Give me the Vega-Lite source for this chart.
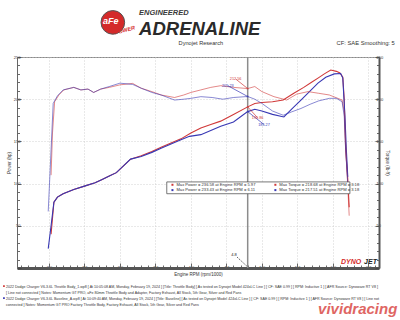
{
 "$schema": "https://vega.github.io/schema/vega-lite/v6.json",
 "width": 362,
 "height": 211,
 "autosize": "none",
 "padding": {"left": 17, "top": 57, "right": 21, "bottom": 52},
 "background": "white",
 "config": {"font": "Liberation Sans", "view": {"stroke": "#8a8a8a", "strokeWidth": 1}},
 "datasets": {
  "curves": [
   {"rpm":2.03,"v":40,"run":"Throttle Body","m":"Power"},{"rpm":2.07,"v":78,"run":"Throttle Body","m":"Power"},{"rpm":2.12,"v":84,"run":"Throttle Body","m":"Power"},{"rpm":2.2,"v":88,"run":"Throttle Body","m":"Power"},{"rpm":2.35,"v":93,"run":"Throttle Body","m":"Power"},{"rpm":2.5,"v":97,"run":"Throttle Body","m":"Power"},{"rpm":2.65,"v":101,"run":"Throttle Body","m":"Power"},{"rpm":2.75,"v":105,"run":"Throttle Body","m":"Power"},{"rpm":2.85,"v":109,"run":"Throttle Body","m":"Power"},{"rpm":2.95,"v":113,"run":"Throttle Body","m":"Power"},{"rpm":3.05,"v":121,"run":"Throttle Body","m":"Power"},{"rpm":3.15,"v":129,"run":"Throttle Body","m":"Power"},{"rpm":3.3,"v":133,"run":"Throttle Body","m":"Power"},{"rpm":3.45,"v":138,"run":"Throttle Body","m":"Power"},{"rpm":3.58,"v":143,"run":"Throttle Body","m":"Power"},{"rpm":3.72,"v":148,"run":"Throttle Body","m":"Power"},{"rpm":3.86,"v":153,"run":"Throttle Body","m":"Power"},{"rpm":4.0,"v":160,"run":"Throttle Body","m":"Power"},{"rpm":4.14,"v":166,"run":"Throttle Body","m":"Power"},{"rpm":4.28,"v":170,"run":"Throttle Body","m":"Power"},{"rpm":4.42,"v":174,"run":"Throttle Body","m":"Power"},{"rpm":4.6,"v":182,"run":"Throttle Body","m":"Power"},{"rpm":4.8,"v":190.9,"run":"Throttle Body","m":"Power"},{"rpm":4.9,"v":195,"run":"Throttle Body","m":"Power"},{"rpm":5.0,"v":196,"run":"Throttle Body","m":"Power"},{"rpm":5.15,"v":197,"run":"Throttle Body","m":"Power"},{"rpm":5.3,"v":199,"run":"Throttle Body","m":"Power"},{"rpm":5.45,"v":207,"run":"Throttle Body","m":"Power"},{"rpm":5.59,"v":214,"run":"Throttle Body","m":"Power"},{"rpm":5.7,"v":220,"run":"Throttle Body","m":"Power"},{"rpm":5.79,"v":225,"run":"Throttle Body","m":"Power"},{"rpm":5.88,"v":230,"run":"Throttle Body","m":"Power"},{"rpm":5.97,"v":234.5,"run":"Throttle Body","m":"Power"},{"rpm":6.05,"v":233,"run":"Throttle Body","m":"Power"},{"rpm":6.1,"v":231,"run":"Throttle Body","m":"Power"},{"rpm":6.14,"v":226,"run":"Throttle Body","m":"Power"},{"rpm":6.16,"v":200,"run":"Throttle Body","m":"Power"},{"rpm":6.18,"v":141,"run":"Throttle Body","m":"Power"},{"rpm":6.21,"v":105,"run":"Throttle Body","m":"Power"},{"rpm":6.23,"v":72,"run":"Throttle Body","m":"Power"},
   {"rpm":1.99,"v":23,"run":"Baseline","m":"Power"},{"rpm":2.03,"v":50,"run":"Baseline","m":"Power"},{"rpm":2.07,"v":78,"run":"Baseline","m":"Power"},{"rpm":2.12,"v":84,"run":"Baseline","m":"Power"},{"rpm":2.2,"v":88,"run":"Baseline","m":"Power"},{"rpm":2.35,"v":93,"run":"Baseline","m":"Power"},{"rpm":2.5,"v":97,"run":"Baseline","m":"Power"},{"rpm":2.65,"v":101,"run":"Baseline","m":"Power"},{"rpm":2.75,"v":105,"run":"Baseline","m":"Power"},{"rpm":2.85,"v":109,"run":"Baseline","m":"Power"},{"rpm":2.95,"v":113,"run":"Baseline","m":"Power"},{"rpm":3.05,"v":121,"run":"Baseline","m":"Power"},{"rpm":3.15,"v":129,"run":"Baseline","m":"Power"},{"rpm":3.3,"v":132,"run":"Baseline","m":"Power"},{"rpm":3.45,"v":137,"run":"Baseline","m":"Power"},{"rpm":3.58,"v":142,"run":"Baseline","m":"Power"},{"rpm":3.72,"v":147,"run":"Baseline","m":"Power"},{"rpm":3.86,"v":152,"run":"Baseline","m":"Power"},{"rpm":3.98,"v":156,"run":"Baseline","m":"Power"},{"rpm":4.14,"v":158,"run":"Baseline","m":"Power"},{"rpm":4.28,"v":163,"run":"Baseline","m":"Power"},{"rpm":4.42,"v":168,"run":"Baseline","m":"Power"},{"rpm":4.6,"v":173,"run":"Baseline","m":"Power"},{"rpm":4.8,"v":185.3,"run":"Baseline","m":"Power"},{"rpm":4.9,"v":188,"run":"Baseline","m":"Power"},{"rpm":5.0,"v":186,"run":"Baseline","m":"Power"},{"rpm":5.15,"v":182,"run":"Baseline","m":"Power"},{"rpm":5.31,"v":179,"run":"Baseline","m":"Power"},{"rpm":5.43,"v":189,"run":"Baseline","m":"Power"},{"rpm":5.55,"v":199,"run":"Baseline","m":"Power"},{"rpm":5.67,"v":209,"run":"Baseline","m":"Power"},{"rpm":5.79,"v":219,"run":"Baseline","m":"Power"},{"rpm":5.9,"v":226,"run":"Baseline","m":"Power"},{"rpm":6.02,"v":230,"run":"Baseline","m":"Power"},{"rpm":6.11,"v":230.4,"run":"Baseline","m":"Power"},{"rpm":6.14,"v":225,"run":"Baseline","m":"Power"},{"rpm":6.17,"v":180,"run":"Baseline","m":"Power"},{"rpm":6.19,"v":140,"run":"Baseline","m":"Power"},{"rpm":6.21,"v":108,"run":"Baseline","m":"Power"},
   {"rpm":2.03,"v":110,"run":"Throttle Body","m":"Torque"},{"rpm":2.05,"v":160,"run":"Throttle Body","m":"Torque"},{"rpm":2.08,"v":197,"run":"Throttle Body","m":"Torque"},{"rpm":2.14,"v":205,"run":"Throttle Body","m":"Torque"},{"rpm":2.21,"v":211,"run":"Throttle Body","m":"Torque"},{"rpm":2.35,"v":214,"run":"Throttle Body","m":"Torque"},{"rpm":2.45,"v":211,"run":"Throttle Body","m":"Torque"},{"rpm":2.55,"v":212,"run":"Throttle Body","m":"Torque"},{"rpm":2.63,"v":208,"run":"Throttle Body","m":"Torque"},{"rpm":2.73,"v":212,"run":"Throttle Body","m":"Torque"},{"rpm":2.85,"v":214,"run":"Throttle Body","m":"Torque"},{"rpm":3.0,"v":217,"run":"Throttle Body","m":"Torque"},{"rpm":3.18,"v":218.7,"run":"Throttle Body","m":"Torque"},{"rpm":3.3,"v":213,"run":"Throttle Body","m":"Torque"},{"rpm":3.45,"v":209,"run":"Throttle Body","m":"Torque"},{"rpm":3.58,"v":205,"run":"Throttle Body","m":"Torque"},{"rpm":3.77,"v":202,"run":"Throttle Body","m":"Torque"},{"rpm":3.9,"v":205,"run":"Throttle Body","m":"Torque"},{"rpm":4.0,"v":208,"run":"Throttle Body","m":"Torque"},{"rpm":4.14,"v":211,"run":"Throttle Body","m":"Torque"},{"rpm":4.28,"v":214,"run":"Throttle Body","m":"Torque"},{"rpm":4.42,"v":216,"run":"Throttle Body","m":"Torque"},{"rpm":4.6,"v":214,"run":"Throttle Body","m":"Torque"},{"rpm":4.8,"v":212.6,"run":"Throttle Body","m":"Torque"},{"rpm":4.9,"v":215,"run":"Throttle Body","m":"Torque"},{"rpm":5.0,"v":209,"run":"Throttle Body","m":"Torque"},{"rpm":5.17,"v":203,"run":"Throttle Body","m":"Torque"},{"rpm":5.35,"v":199,"run":"Throttle Body","m":"Torque"},{"rpm":5.49,"v":206,"run":"Throttle Body","m":"Torque"},{"rpm":5.65,"v":209,"run":"Throttle Body","m":"Torque"},{"rpm":5.8,"v":207,"run":"Throttle Body","m":"Torque"},{"rpm":5.95,"v":205,"run":"Throttle Body","m":"Torque"},{"rpm":6.13,"v":199,"run":"Throttle Body","m":"Torque"},{"rpm":6.16,"v":185,"run":"Throttle Body","m":"Torque"},{"rpm":6.19,"v":130,"run":"Throttle Body","m":"Torque"},{"rpm":6.23,"v":62,"run":"Throttle Body","m":"Torque"},
   {"rpm":1.99,"v":67,"run":"Baseline","m":"Torque"},{"rpm":2.03,"v":140,"run":"Baseline","m":"Torque"},{"rpm":2.06,"v":195,"run":"Baseline","m":"Torque"},{"rpm":2.12,"v":204,"run":"Baseline","m":"Torque"},{"rpm":2.2,"v":211,"run":"Baseline","m":"Torque"},{"rpm":2.35,"v":214,"run":"Baseline","m":"Torque"},{"rpm":2.45,"v":211,"run":"Baseline","m":"Torque"},{"rpm":2.55,"v":212,"run":"Baseline","m":"Torque"},{"rpm":2.63,"v":208,"run":"Baseline","m":"Torque"},{"rpm":2.73,"v":212,"run":"Baseline","m":"Torque"},{"rpm":2.85,"v":215,"run":"Baseline","m":"Torque"},{"rpm":3.0,"v":219,"run":"Baseline","m":"Torque"},{"rpm":3.18,"v":217.5,"run":"Baseline","m":"Torque"},{"rpm":3.3,"v":213,"run":"Baseline","m":"Torque"},{"rpm":3.45,"v":208,"run":"Baseline","m":"Torque"},{"rpm":3.58,"v":205,"run":"Baseline","m":"Torque"},{"rpm":3.77,"v":199,"run":"Baseline","m":"Torque"},{"rpm":3.9,"v":200,"run":"Baseline","m":"Torque"},{"rpm":4.0,"v":201,"run":"Baseline","m":"Torque"},{"rpm":4.14,"v":203,"run":"Baseline","m":"Torque"},{"rpm":4.3,"v":202,"run":"Baseline","m":"Torque"},{"rpm":4.45,"v":200,"run":"Baseline","m":"Torque"},{"rpm":4.6,"v":202,"run":"Baseline","m":"Torque"},{"rpm":4.8,"v":203.2,"run":"Baseline","m":"Torque"},{"rpm":4.9,"v":200,"run":"Baseline","m":"Torque"},{"rpm":5.0,"v":195,"run":"Baseline","m":"Torque"},{"rpm":5.15,"v":186,"run":"Baseline","m":"Torque"},{"rpm":5.3,"v":181,"run":"Baseline","m":"Torque"},{"rpm":5.42,"v":185,"run":"Baseline","m":"Torque"},{"rpm":5.55,"v":189,"run":"Baseline","m":"Torque"},{"rpm":5.68,"v":194,"run":"Baseline","m":"Torque"},{"rpm":5.8,"v":198,"run":"Baseline","m":"Torque"},{"rpm":5.95,"v":201,"run":"Baseline","m":"Torque"},{"rpm":6.05,"v":201,"run":"Baseline","m":"Torque"},{"rpm":6.13,"v":197,"run":"Baseline","m":"Torque"},{"rpm":6.16,"v":180,"run":"Baseline","m":"Torque"},{"rpm":6.18,"v":140,"run":"Baseline","m":"Torque"},{"rpm":6.21,"v":100,"run":"Baseline","m":"Torque"}
  ],
  "callouts": [
   {"rpm":4.63,"v":224,"rpm2":4.8,"v2":212.6,"t":"212.56","run":"Throttle Body"},
   {"rpm":4.52,"v":216,"rpm2":4.8,"v2":203.2,"t":"205.23","run":"Baseline"},
   {"rpm":4.94,"v":178,"rpm2":4.8,"v2":190.9,"t":"190.86","run":"Throttle Body"},
   {"rpm":5.03,"v":170,"rpm2":4.8,"v2":185.3,"t":"185.27","run":"Baseline"}
  ],
  "legendbox": [{"rpm":3.66,"v":102,"rpm2":6.24,"v2":88}],
  "legenditems": [
   {"rpm":3.74,"v":98.6,"t":"Max Power = 236.58 at Engine RPM = 5.97","run":"Throttle Body"},
   {"rpm":3.74,"v":92.3,"t":"Max Power = 233.43 at Engine RPM = 6.11","run":"Baseline"},
   {"rpm":5.19,"v":98.6,"t":"Max Torque = 218.68 at Engine RPM = 3.18","run":"Throttle Body"},
   {"rpm":5.19,"v":92.3,"t":"Max Torque = 217.51 at Engine RPM = 3.18","run":"Baseline"}
  ],
  "footer": [
   {"rpm":1.394,"v":-22.5,"t":"2022 Dodge Charger V6-3.6L Throttle Body_1.wp8 [ At 10:05:08 AM, Monday, February 19, 2024 ] [Title: Throttle Body] [ As tested on Dynojet Model 424xLC Line ] [ CF: SAE 0.99 ] [ RPM: Inductive 1 ] [ AFR Source: Dynoware RT V8 ]"},
   {"rpm":1.394,"v":-29.6,"t":"[ Line not connected ] Notes: Momentum GT PRO, aFe 80mm Throttle Body and Adapter, Factory Exhaust, All Stock, 5th Gear, Silver and Red Pans"},
   {"rpm":1.394,"v":-36.7,"t":"2022 Dodge Charger V6-3.6L Baseline_A.wp8 [ At 10:09:40 AM, Monday, February 19, 2024 ] [Title: Baseline] [ As tested on Dynojet Model 424xLC Line ] [ CF: SAE 0.99 ] [ RPM: Inductive 1 ] [ AFR Source: Dynoware RT V8 ] [ Line not"},
   {"rpm":1.394,"v":-43.8,"t":"connected ] Notes: Momentum GT PRO Factory Throttle Body, Factory Exhaust, All Stock, 5th Gear, Silver and Red Pans"}
  ],
  "footermarks": [
   {"rpm":1.366,"v":-21.5,"run":"Throttle Body"},
   {"rpm":1.366,"v":-35.7,"run":"Baseline"}
  ]
 },
 "encoding": {
  "x": {"field": "rpm", "type": "quantitative",
        "scale": {"domain": [1.55, 6.65], "nice": false, "zero": false},
        "axis": {
          "values": [1.6,1.7,1.8,1.9,2.0,2.1,2.2,2.3,2.4,2.5,2.6,2.7,2.8,2.9,3.0,3.1,3.2,3.3,3.4,3.5,3.6,3.7,3.8,3.9,4.0,4.1,4.2,4.3,4.4,4.5,4.6,4.7,4.8,4.9,5.0,5.1,5.2,5.3,5.4,5.5,5.6,5.7,5.8,5.9,6.0,6.1,6.2,6.3,6.4,6.5,6.6],
          "labelExpr": "round(datum.value*10) % 5 === 0 ? format(datum.value, '.1f') : ''",
          "labelFontSize": 4, "labelColor": "#333", "labelPadding": 2, "labelFlush": false,
          "title": "Engine RPM (rpm/1000)", "titleFontSize": 4.5, "titleFontWeight": "normal", "titleColor": "#333", "titlePadding": 2,
          "domainColor": "#555", "domainWidth": 3,
          "tickColor": "#444", "tickWidth": 0.8,
          "tickSize": {"condition": {"test": "round(datum.value*10) % 5 === 0", "value": -5}, "value": -3},
          "grid": true, "gridColor": "#c8c8c8", "gridDash": [1, 2], "gridWidth": 0.8,
          "gridOpacity": {"condition": {"test": "round(datum.value*10) % 5 === 0", "value": 1}, "value": 0}
        }},
  "y": {"field": "v", "type": "quantitative",
        "scale": {"domain": [0, 250], "nice": false, "zero": false},
        "axis": null}
 },
 "layer": [
  {
   "data": {"values": [{"rpm": 4.8, "v": 0, "v2": 250}]},
   "mark": {"type": "rule", "color": "#8c8c8c", "strokeWidth": 1.5},
   "encoding": {"y2": {"field": "v2"}}
  },
  {
   "data": {"name": "curves"},
   "transform": [{"filter": "datum.m === 'Power'"}],
   "mark": {"type": "line", "strokeWidth": 1.1, "interpolate": "linear"},
   "encoding": {
    "y": {"field": "v", "type": "quantitative",
          "scale": {"domain": [0, 250], "nice": false, "zero": false},
          "axis": {
           "orient": "left",
           "values": [0,10,20,30,40,50,60,70,80,90,100,110,120,130,140,150,160,170,180,190,200,210,220,230,240,250],
           "labelExpr": "datum.value % 50 === 0 && datum.value > 0 ? datum.value : ''",
           "labelFontSize": 4, "labelColor": "#333", "labelPadding": 1,
           "title": "Power (hp)", "titleFontSize": 4.5, "titleFontWeight": "normal", "titleColor": "#333", "titlePadding": 2,
           "domainColor": "#666", "domainWidth": 1,
           "tickColor": "#444", "tickWidth": 0.8,
           "tickSize": {"condition": {"test": "datum.value % 50 === 0", "value": -4}, "value": -2.5},
           "grid": true, "gridColor": "#c8c8c8", "gridDash": [1, 2], "gridWidth": 0.8,
           "gridOpacity": {"condition": {"test": "datum.value % 50 === 0", "value": 1}, "value": 0}
          }},
    "color": {"field": "run", "type": "nominal", "scale": {"domain": ["Throttle Body", "Baseline"], "range": ["#d03838", "#3838b4"]}, "legend": null},
    "detail": {"field": "run"}
   }
  },
  {
   "data": {"name": "curves"},
   "transform": [{"filter": "datum.m === 'Torque'"}],
   "mark": {"type": "line", "strokeWidth": 0.7, "opacity": 0.85},
   "encoding": {
    "y": {"field": "v", "type": "quantitative",
          "scale": {"domain": [0, 250], "nice": false, "zero": false},
          "axis": {
           "orient": "right",
           "values": [0,10,20,30,40,50,60,70,80,90,100,110,120,130,140,150,160,170,180,190,200,210,220,230,240,250],
           "labelExpr": "datum.value % 50 === 0 && datum.value > 0 ? datum.value : ''",
           "labelFontSize": 4, "labelColor": "#333", "labelPadding": 1,
           "title": "Torque (lb-ft)", "titleFontSize": 4.5, "titleFontWeight": "normal", "titleColor": "#333", "titlePadding": 2, "titleAngle": 90,
           "domainColor": "#555", "domainWidth": 2,
           "tickColor": "#444", "tickWidth": 0.8,
           "tickSize": {"condition": {"test": "datum.value % 50 === 0", "value": -4}, "value": -2.5},
           "grid": false
          }},
    "color": {"field": "run", "type": "nominal", "scale": {"domain": ["Throttle Body", "Baseline"], "range": ["#d03838", "#3838b4"]}, "legend": null},
    "detail": {"field": "run"}
   }
  },
  {
   "data": {"name": "callouts"},
   "mark": {"type": "rule", "strokeWidth": 0.7},
   "encoding": {
    "x2": {"field": "rpm2"}, "y2": {"field": "v2"},
    "color": {"field": "run", "type": "nominal", "scale": {"domain": ["Throttle Body", "Baseline"], "range": ["#d03838", "#3838b4"]}, "legend": null}
   }
  },
  {
   "data": {"name": "callouts"},
   "mark": {"type": "point", "shape": "triangle", "size": 6, "filled": true},
   "encoding": {
    "x": {"field": "rpm2", "type": "quantitative"}, "y": {"field": "v2", "type": "quantitative"},
    "color": {"field": "run", "type": "nominal", "scale": {"domain": ["Throttle Body", "Baseline"], "range": ["#d03838", "#3838b4"]}, "legend": null}
   }
  },
  {
   "data": {"name": "callouts"},
   "mark": {"type": "text", "fontSize": 3.8, "align": "center", "baseline": "middle"},
   "encoding": {
    "text": {"field": "t"},
    "color": {"field": "run", "type": "nominal", "scale": {"domain": ["Throttle Body", "Baseline"], "range": ["#d03838", "#3838b4"]}, "legend": null}
   }
  },
  {
   "data": {"values": [{"rpm": 4.65, "v": 13, "rpm2": 4.79, "v2": 2, "t": "4.8"}]},
   "layer": [
    {"mark": {"type": "rule", "color": "#222", "strokeWidth": 0.7, "strokeDash": [1.5, 1]}, "encoding": {"x2": {"field": "rpm2"}, "y2": {"field": "v2"}}},
    {"mark": {"type": "text", "fontSize": 4, "color": "#222", "dx": -3, "dy": -2}, "encoding": {"text": {"field": "t"}}}
   ]
  },
  {
   "data": {"name": "legendbox"},
   "mark": {"type": "rect", "fill": "white", "stroke": "#555", "strokeWidth": 0.8},
   "encoding": {"x2": {"field": "rpm2"}, "y2": {"field": "v2"}}
  },
  {
   "data": {"name": "legenditems"},
   "mark": {"type": "point", "shape": "square", "size": 4, "filled": true, "opacity": 1},
   "encoding": {
    "color": {"field": "run", "type": "nominal", "scale": {"domain": ["Throttle Body", "Baseline"], "range": ["#d03838", "#3838b4"]}, "legend": null}
   }
  },
  {
   "data": {"name": "legenditems"},
   "mark": {"type": "text", "fontSize": 4.1, "align": "left", "baseline": "middle", "dx": 4, "color": "#333"},
   "encoding": {"text": {"field": "t"}}
  },
  {
   "data": {"values": [{"rpm": 6.4, "v": 7, "t": "DYNO"}]},
   "mark": {"type": "text", "fontSize": 7, "fontWeight": "bold", "fontStyle": "italic", "align": "right", "baseline": "middle", "color": "#d42a2a"},
   "encoding": {"text": {"field": "t"}}
  },
  {
   "data": {"values": [{"rpm": 6.44, "v": 7, "t": "JET"}]},
   "mark": {"type": "text", "fontSize": 7, "fontWeight": "bold", "fontStyle": "italic", "align": "left", "baseline": "middle", "color": "#222"},
   "encoding": {"text": {"field": "t"}}
  },
  {
   "data": {"name": "footermarks"},
   "mark": {"type": "point", "shape": "square", "size": 3, "filled": true, "opacity": 1},
   "encoding": {
    "color": {"field": "run", "type": "nominal", "scale": {"domain": ["Throttle Body", "Baseline"], "range": ["#d03838", "#3838b4"]}, "legend": null}
   }
  },
  {
   "data": {"name": "footer"},
   "mark": {"type": "text", "fontSize": 3.6, "align": "left", "baseline": "middle", "color": "#333"},
   "encoding": {"text": {"field": "t"}}
  },
  {
   "data": {"values": [{"rpm": 6.35, "v": -48, "t": "vividracing"}]},
   "mark": {"type": "text", "fontSize": 15, "fontWeight": "bold", "fontStyle": "italic", "align": "center", "baseline": "middle", "color": "#d8403c", "opacity": 0.8},
   "encoding": {"text": {"field": "t"}}
  },
  {
   "data": {"values": [{"rpm": 2.9, "v": 291}]},
   "mark": {"type": "point", "shape": "circle", "size": 560, "filled": true, "color": "#d42a2a", "stroke": "#555", "strokeWidth": 1, "opacity": 1}
  },
  {
   "data": {"values": [{"rpm": 2.87, "v": 293, "t": "aFe"}]},
   "mark": {"type": "text", "fontSize": 9, "fontWeight": "bold", "fontStyle": "italic", "align": "center", "baseline": "middle", "color": "white"},
   "encoding": {"text": {"field": "t"}}
  },
  {
   "data": {"values": [{"rpm": 3.07, "v": 282, "t": "POWER"}]},
   "mark": {"type": "text", "fontSize": 5.5, "fontWeight": "bold", "fontStyle": "italic", "align": "center", "baseline": "middle", "color": "#d42a2a", "angle": 345},
   "encoding": {"text": {"field": "t"}}
  },
  {
   "data": {"values": [{"rpm": 3.27, "v": 302, "t": "ENGINEERED"}]},
   "mark": {"type": "text", "fontSize": 7.5, "fontWeight": "bold", "fontStyle": "italic", "align": "left", "baseline": "middle", "color": "#3a3a3a"},
   "encoding": {"text": {"field": "t"}}
  },
  {
   "data": {"values": [{"rpm": 3.27, "v": 283.5, "t": "ADRENALINE"}]},
   "mark": {"type": "text", "fontSize": 18.5, "fontWeight": "bold", "fontStyle": "italic", "align": "left", "baseline": "middle", "color": "#2a2a2a"},
   "encoding": {"text": {"field": "t"}}
  },
  {
   "data": {"values": [{"rpm": 4.14, "v": 267, "t": "Dynojet Research"}]},
   "mark": {"type": "text", "fontSize": 5.6, "align": "center", "baseline": "middle", "color": "#333"},
   "encoding": {"text": {"field": "t"}}
  },
  {
   "data": {"values": [{"rpm": 6.873, "v": 267, "t": "CF: SAE Smoothing: 5"}]},
   "mark": {"type": "text", "fontSize": 5.8, "align": "right", "baseline": "middle", "color": "#333"},
   "encoding": {"text": {"field": "t"}}
  }
 ],
 "resolve": {"axis": {"y": "independent"}}
}
